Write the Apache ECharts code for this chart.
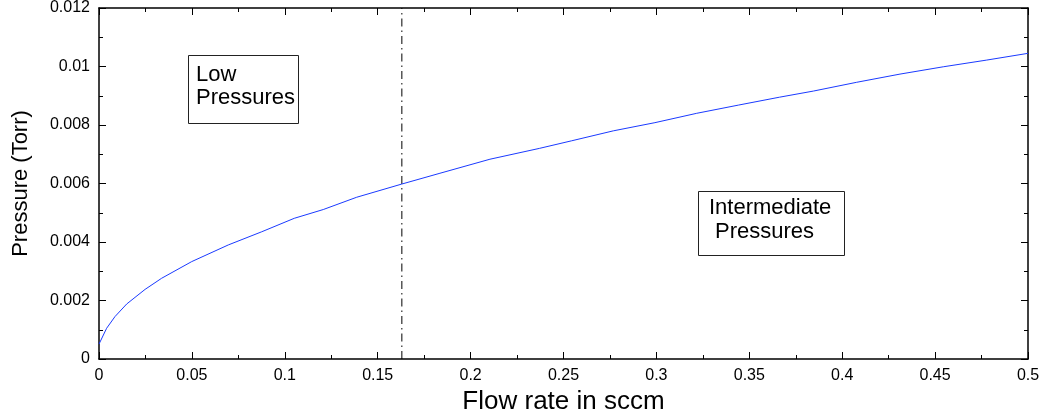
<!DOCTYPE html>
<html>
<head>
<meta charset="utf-8">
<script src="https://cdn.jsdelivr.net/npm/echarts@6/dist/echarts.min.js"></script>
<style>html,body{margin:0;padding:0;background:#fff}#c{width:1043px;height:414px}</style>
</head>
<body>
<div id="c"></div>
<script>
// Flow rate (sccm)
const flowRate = [0, 0.0041, 0.0086, 0.0149, 0.0248, 0.0337, 0.0499, 0.0696, 0.0876, 0.1051,
  0.1207, 0.1387, 0.1629, 0.1835, 0.2104, 0.2370, 0.2544, 0.2768, 0.2992, 0.3217, 0.3441,
  0.3662, 0.3845, 0.4078, 0.4311, 0.4544, 0.4778, 0.5];
// Pressure (Torr)
const pressure = [0.00051, 0.00105, 0.00145, 0.00188, 0.00238, 0.00276, 0.00333, 0.0039, 0.00435, 0.00481,
  0.00511, 0.00553, 0.00598, 0.00635, 0.00683, 0.0072, 0.00746, 0.0078, 0.00808, 0.0084, 0.00868,
  0.00895, 0.00916, 0.00946, 0.00974, 0.00999, 0.01022, 0.01045];
// Boundary between low and intermediate pressure regimes
const boundaryFlow = 0.163;
const boundaryRange = [0, 0.012];
const xTitle = 'Flow rate in sccm';
const yTitle = 'Pressure (Torr)';
const regionLabels = ['Low\nPressures', 'Intermediate\nPressures'];

const chart = echarts.init(document.getElementById('c'), null, {renderer: 'canvas'});
const FONT = 'Liberation Sans, Arial, Helvetica, sans-serif';
const tickCommon = {
  axisLine: {show: true, onZero: false, lineStyle: {color: '#000', width: 1.5}},
  axisTick: {show: true, inside: true, length: 7, lineStyle: {color: '#000', width: 1}},
  minorTick: {show: true, splitNumber: 2, length: 4, lineStyle: {color: '#000', width: 1}},
  splitLine: {show: false}
};
const xBase = {type: 'value', min: 0, max: 0.5, interval: 0.05};
const yBase = {type: 'value', min: 0, max: 0.012, interval: 0.002};

chart.setOption({
  animation: false,
  backgroundColor: '#fff',
  grid: {left: 99, right: 15, top: 8, bottom: 55, containLabel: false, outerBoundsMode: 'none'},
  xAxis: [
    Object.assign({}, xBase, tickCommon, {
      position: 'bottom',
      name: xTitle, nameLocation: 'middle', nameGap: 27,
      nameTextStyle: {fontFamily: FONT, fontSize: 26, color: '#000'},
      axisLabel: {fontFamily: FONT, fontSize: 16, color: '#000', margin: 9}
    }),
    Object.assign({}, xBase, tickCommon, {position: 'top', axisLabel: {show: false}})
  ],
  yAxis: [
    Object.assign({}, yBase, tickCommon, {
      position: 'left',
      name: yTitle, nameLocation: 'middle', nameGap: 67, nameRotate: 90,
      nameTextStyle: {fontFamily: FONT, fontSize: 22, color: '#000'},
      axisLabel: {fontFamily: FONT, fontSize: 16, color: '#000', margin: 9}
    }),
    Object.assign({}, yBase, tickCommon, {position: 'right', axisLabel: {show: false}})
  ],
  series: [{
    type: 'line',
    data: boundaryRange.map(v => [boundaryFlow, v]),
    showSymbol: false,
    silent: true,
    lineStyle: {color: '#000', width: 1, type: [8, 4, 1.5, 4]},
    itemStyle: {color: '#000'},
    z: 1
  }, {
    type: 'line',
    data: flowRate.map((x, i) => [x, pressure[i]]),
    showSymbol: false,
    lineStyle: {color: '#1a3aff', width: 1},
    itemStyle: {color: '#1a3aff'},
    z: 2
  }],
  graphic: [
    {type: 'rect', shape: {x: 188.5, y: 55.5, width: 110, height: 68},
     style: {fill: '#fff', stroke: '#222', lineWidth: 1}, z: 10},
    {type: 'text', x: 196, y: 63, z: 11,
     style: {text: regionLabels[0], font: '22px ' + FONT, fill: '#000', lineHeight: 23}},
    {type: 'rect', shape: {x: 698.5, y: 191.5, width: 146, height: 64},
     style: {fill: '#fff', stroke: '#222', lineWidth: 1}, z: 10},
    {type: 'text', x: 709, y: 197, z: 11,
     style: {text: 'Intermediate', font: '22px ' + FONT, fill: '#000'}},
    {type: 'text', x: 715, y: 221, z: 11,
     style: {text: 'Pressures', font: '22px ' + FONT, fill: '#000'}}
  ]
});
</script>
</body>
</html>
